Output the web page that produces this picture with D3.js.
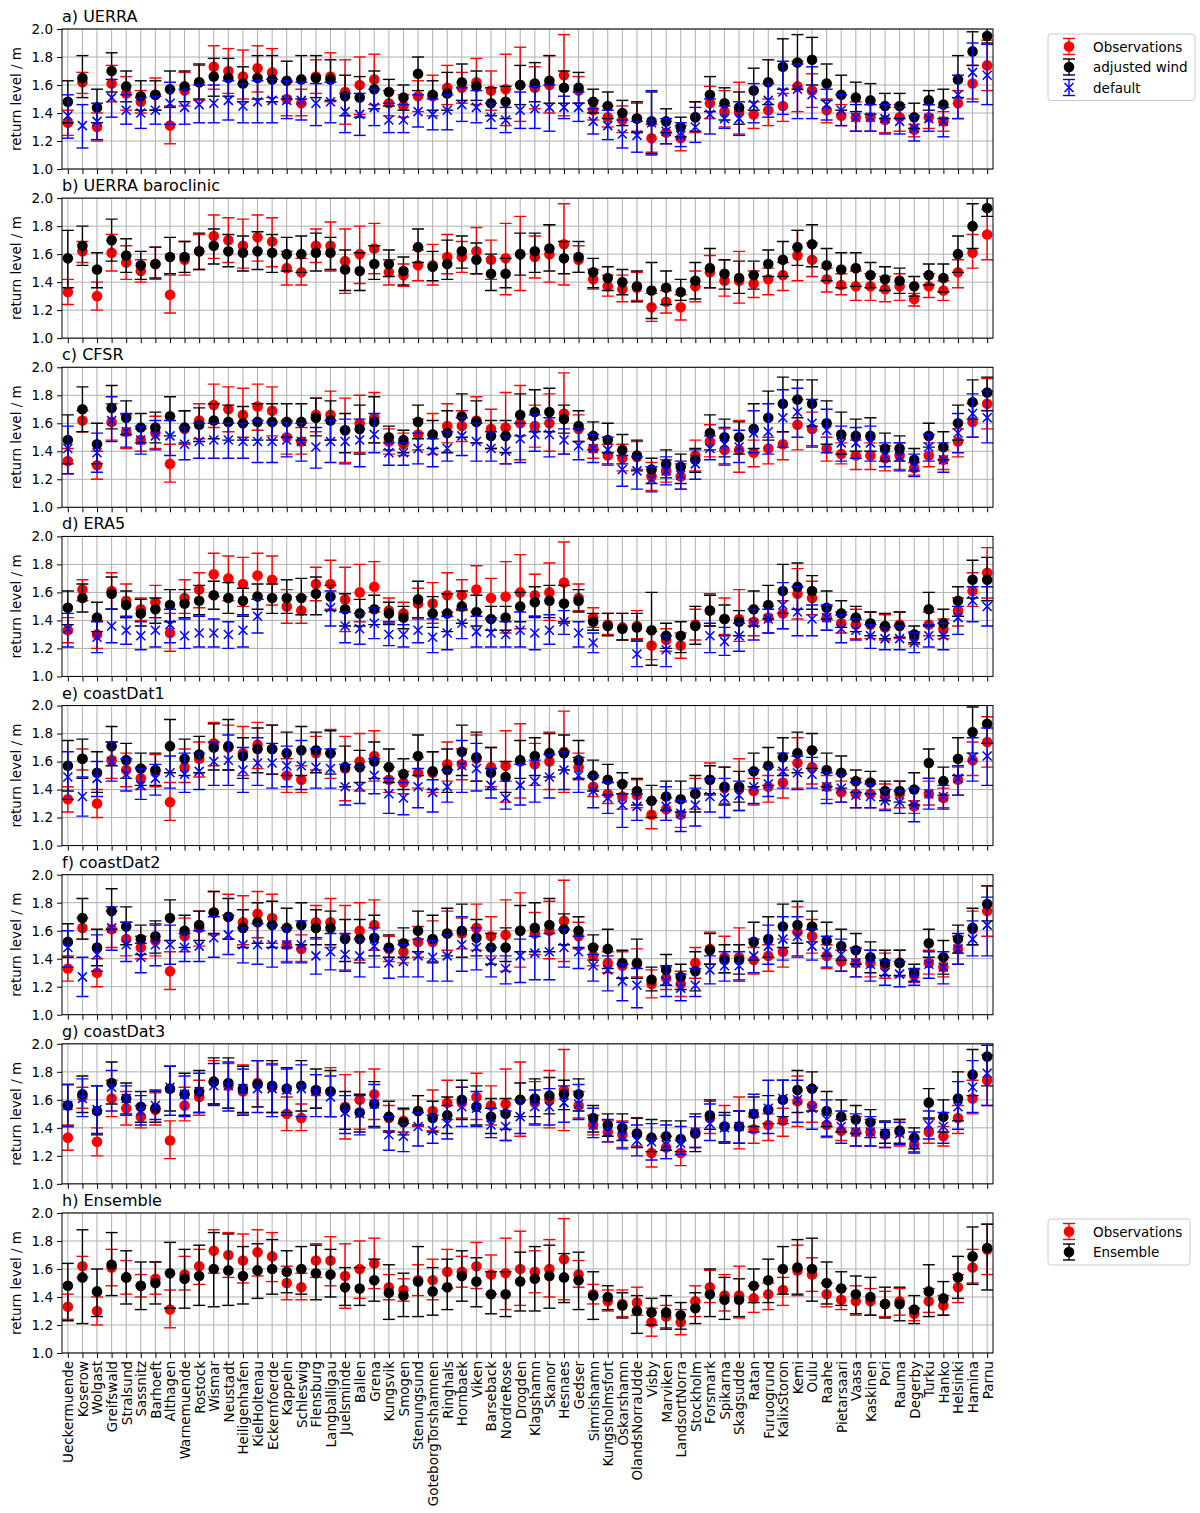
<!DOCTYPE html>
<html>
<head>
<meta charset="utf-8">
<script src="https://cdn.jsdelivr.net/npm/d3@7"></script>
<style>
body { margin:0; background:#fff; }
svg text { font-family: "DejaVu Sans", sans-serif; fill:#000; }
</style>
</head>
<body>
<svg width="1200" height="1513"></svg>
<script>
var stations = ["Ueckermuende","Koserow","Wolgast","Greifswald","Stralsund","Sassnitz","Barhoeft","Althagen",
 "Warnemuende","Rostock","Wismar","Neustadt","Heiligenhafen","KielHoltenau","Eckernfoerde","Kappeln","Schleswig",
 "Flensburg","Langballigau","Juelsminde","Ballen","Grena","Kungsvik","Smogen","Stenungsund","GoteborgTorshamnen",
 "Ringhals","Hornbaek","Viken","Barseback","NordreRose","Drogden","Klagshamn","Skanor","Hesnaes","Gedser",
 "Simrishamn","Kungsholmsfort","Öskarshamn","OlandsNorraUdde","Visby","Marviken","LandsortNorra","Stockholm",
 "Forsmark","Spikarna","Skagsudde","Ratan","Furuogrund","KalixStoron","Kemi","Oulu","Raahe","Pietarsaari",
 "Vaasa","Kaskinen","Pori","Rauma","Degerby","Turku","Hanko","Helsinki","Hamina","Parnu"];

var yTicks = [1.0, 1.2, 1.4, 1.6, 1.8, 2.0];

// each entry: [return level, lower, upper]
var obs = [[1.33,1.24,1.42],[1.62,1.54,1.69],[1.30,1.20,1.40],[1.61,1.48,1.74],[1.54,1.42,1.66],[1.48,1.40,1.56],[1.53,1.42,1.65],[1.31,1.18,1.45],
 [1.56,1.45,1.69],[1.62,1.49,1.74],[1.73,1.57,1.88],[1.70,1.54,1.86],[1.66,1.50,1.85],[1.72,1.55,1.88],[1.69,1.51,1.86],[1.50,1.38,1.62],
 [1.47,1.38,1.57],[1.66,1.54,1.78],[1.66,1.48,1.83],[1.55,1.32,1.78],[1.60,1.39,1.80],[1.64,1.46,1.82],[1.47,1.38,1.56],[1.45,1.37,1.53],
 [1.52,1.41,1.63],[1.52,1.38,1.67],[1.58,1.46,1.74],[1.58,1.47,1.69],[1.62,1.46,1.79],[1.56,1.42,1.70],[1.57,1.31,1.82],[1.60,1.34,1.87],
 [1.58,1.43,1.73],[1.60,1.40,1.81],[1.67,1.38,1.96],[1.56,1.47,1.66],[1.42,1.35,1.49],[1.37,1.30,1.45],[1.35,1.26,1.45],[1.36,1.27,1.47],
 [1.22,1.12,1.32],[1.26,1.18,1.34],[1.22,1.13,1.31],[1.37,1.26,1.48],[1.47,1.36,1.59],[1.41,1.30,1.56],[1.41,1.25,1.62],[1.39,1.29,1.48],
 [1.42,1.31,1.50],[1.45,1.34,1.54],[1.59,1.41,1.77],[1.56,1.44,1.68],[1.42,1.33,1.50],[1.38,1.31,1.46],[1.37,1.27,1.48],[1.37,1.27,1.46],
 [1.35,1.26,1.44],[1.37,1.27,1.46],[1.28,1.23,1.32],[1.37,1.29,1.46],[1.34,1.27,1.41],[1.47,1.36,1.56],[1.61,1.50,1.74],[1.74,1.56,1.92]];

var uerraAdj = [[1.48,1.33,1.63],[1.65,1.51,1.81],[1.44,1.33,1.57],[1.70,1.55,1.83],[1.59,1.48,1.70],[1.52,1.42,1.63],[1.53,1.42,1.63],[1.57,1.44,1.70],
 [1.59,1.48,1.70],[1.62,1.50,1.75],[1.66,1.52,1.79],[1.65,1.52,1.79],[1.61,1.48,1.73],[1.65,1.50,1.81],[1.64,1.48,1.81],[1.63,1.50,1.77],
 [1.64,1.50,1.81],[1.65,1.51,1.81],[1.64,1.49,1.78],[1.52,1.38,1.67],[1.51,1.37,1.66],[1.57,1.43,1.70],[1.55,1.45,1.64],[1.51,1.42,1.60],
 [1.68,1.56,1.80],[1.53,1.42,1.63],[1.54,1.42,1.69],[1.62,1.49,1.75],[1.59,1.49,1.70],[1.47,1.38,1.58],[1.48,1.36,1.59],[1.60,1.46,1.74],
 [1.61,1.48,1.76],[1.63,1.47,1.81],[1.58,1.47,1.70],[1.58,1.47,1.69],[1.48,1.40,1.57],[1.45,1.36,1.55],[1.40,1.31,1.49],[1.36,1.26,1.48],
 [1.34,1.11,1.55],[1.34,1.26,1.43],[1.30,1.23,1.37],[1.37,1.27,1.48],[1.53,1.41,1.66],[1.47,1.35,1.58],[1.44,1.32,1.55],[1.56,1.42,1.72],
 [1.62,1.46,1.78],[1.73,1.57,1.93],[1.76,1.57,1.96],[1.78,1.60,1.94],[1.61,1.49,1.75],[1.53,1.42,1.67],[1.51,1.41,1.62],[1.49,1.39,1.61],
 [1.45,1.36,1.54],[1.45,1.36,1.54],[1.37,1.29,1.47],[1.49,1.42,1.56],[1.46,1.36,1.57],[1.64,1.51,1.81],[1.84,1.74,1.98],[1.95,1.90,2.02]];
var uerraDef = [[1.38,1.22,1.53],[1.31,1.15,1.46],[1.34,1.21,1.47],[1.51,1.37,1.64],[1.42,1.32,1.53],[1.40,1.29,1.51],[1.42,1.32,1.52],[1.47,1.32,1.62],
 [1.44,1.32,1.57],[1.46,1.33,1.60],[1.47,1.33,1.60],[1.49,1.35,1.63],[1.45,1.33,1.61],[1.48,1.33,1.63],[1.49,1.33,1.64],[1.49,1.36,1.63],
 [1.49,1.35,1.62],[1.47,1.31,1.61],[1.48,1.33,1.62],[1.41,1.26,1.54],[1.39,1.24,1.54],[1.44,1.31,1.57],[1.35,1.26,1.47],[1.35,1.26,1.46],
 [1.41,1.30,1.53],[1.39,1.28,1.50],[1.42,1.28,1.53],[1.46,1.34,1.58],[1.44,1.33,1.56],[1.37,1.29,1.47],[1.35,1.26,1.44],[1.42,1.29,1.55],
 [1.43,1.29,1.59],[1.44,1.27,1.60],[1.44,1.36,1.52],[1.44,1.34,1.55],[1.34,1.25,1.43],[1.31,1.21,1.42],[1.25,1.15,1.35],[1.24,1.12,1.34],
 [1.33,1.10,1.56],[1.27,1.18,1.36],[1.24,1.16,1.33],[1.30,1.19,1.44],[1.39,1.25,1.50],[1.36,1.29,1.45],[1.36,1.24,1.48],[1.46,1.33,1.61],
 [1.49,1.37,1.61],[1.55,1.39,1.77],[1.57,1.36,1.75],[1.53,1.36,1.73],[1.46,1.35,1.57],[1.42,1.31,1.53],[1.37,1.27,1.46],[1.37,1.27,1.46],
 [1.36,1.25,1.46],[1.34,1.25,1.44],[1.29,1.20,1.38],[1.36,1.27,1.46],[1.34,1.23,1.44],[1.53,1.36,1.67],[1.69,1.48,1.90],[1.67,1.46,1.89]];

var baroAdj = [[1.57,1.36,1.77],[1.66,1.52,1.80],[1.49,1.36,1.61],[1.70,1.55,1.85],[1.59,1.47,1.71],[1.52,1.42,1.62],[1.53,1.43,1.65],[1.58,1.46,1.72],
 [1.58,1.47,1.69],[1.62,1.49,1.75],[1.66,1.53,1.78],[1.62,1.51,1.74],[1.61,1.48,1.73],[1.62,1.49,1.76],[1.61,1.47,1.74],[1.60,1.48,1.72],
 [1.60,1.47,1.73],[1.61,1.48,1.75],[1.61,1.49,1.72],[1.49,1.34,1.63],[1.48,1.34,1.61],[1.53,1.42,1.66],[1.53,1.44,1.63],[1.48,1.38,1.58],
 [1.65,1.54,1.78],[1.51,1.41,1.62],[1.53,1.42,1.70],[1.62,1.50,1.73],[1.56,1.46,1.68],[1.46,1.34,1.60],[1.46,1.36,1.57],[1.60,1.45,1.75],
 [1.62,1.47,1.75],[1.64,1.48,1.81],[1.57,1.46,1.69],[1.58,1.47,1.69],[1.47,1.36,1.57],[1.43,1.34,1.51],[1.40,1.31,1.49],[1.37,1.26,1.48],
 [1.34,1.14,1.54],[1.36,1.24,1.48],[1.33,1.27,1.42],[1.41,1.28,1.54],[1.50,1.36,1.64],[1.46,1.35,1.56],[1.43,1.32,1.55],[1.45,1.35,1.55],
 [1.53,1.44,1.63],[1.56,1.44,1.69],[1.65,1.52,1.77],[1.67,1.51,1.81],[1.52,1.41,1.64],[1.49,1.36,1.61],[1.50,1.37,1.61],[1.45,1.36,1.54],
 [1.42,1.34,1.51],[1.41,1.32,1.50],[1.37,1.30,1.44],[1.45,1.38,1.53],[1.43,1.33,1.53],[1.60,1.47,1.73],[1.80,1.64,1.96],[1.93,1.87,2.02]];

var cfsrAdj = [[1.48,1.31,1.66],[1.70,1.54,1.86],[1.45,1.31,1.60],[1.71,1.56,1.87],[1.64,1.52,1.76],[1.57,1.46,1.67],[1.57,1.46,1.68],[1.65,1.51,1.79],
 [1.57,1.46,1.69],[1.59,1.47,1.71],[1.62,1.49,1.74],[1.61,1.48,1.73],[1.60,1.48,1.72],[1.61,1.48,1.74],[1.61,1.48,1.74],[1.61,1.50,1.74],
 [1.61,1.48,1.74],[1.64,1.51,1.78],[1.62,1.48,1.76],[1.55,1.39,1.67],[1.56,1.38,1.73],[1.61,1.46,1.79],[1.50,1.41,1.58],[1.48,1.39,1.55],
 [1.61,1.49,1.73],[1.52,1.42,1.62],[1.53,1.39,1.69],[1.65,1.50,1.81],[1.61,1.46,1.76],[1.51,1.42,1.62],[1.51,1.39,1.62],[1.66,1.51,1.81],
 [1.68,1.54,1.84],[1.68,1.54,1.85],[1.63,1.53,1.73],[1.58,1.47,1.69],[1.51,1.41,1.61],[1.48,1.39,1.60],[1.41,1.31,1.52],[1.37,1.26,1.48],
 [1.27,1.17,1.35],[1.31,1.21,1.41],[1.29,1.17,1.38],[1.34,1.25,1.42],[1.53,1.41,1.66],[1.50,1.36,1.63],[1.50,1.38,1.61],[1.56,1.42,1.74],
 [1.64,1.48,1.83],[1.74,1.54,1.93],[1.77,1.64,1.91],[1.74,1.58,1.91],[1.60,1.45,1.76],[1.52,1.38,1.68],[1.51,1.40,1.63],[1.51,1.40,1.64],
 [1.42,1.33,1.53],[1.42,1.33,1.51],[1.34,1.26,1.42],[1.51,1.43,1.60],[1.43,1.34,1.54],[1.60,1.48,1.73],[1.75,1.63,1.91],[1.82,1.69,1.93]];
var cfsrDef = [[1.42,1.24,1.58],null,[1.39,1.25,1.53],[1.62,1.47,1.79],[1.54,1.43,1.67],[1.48,1.38,1.58],[1.51,1.41,1.62],[1.51,1.37,1.62],
 [1.45,1.34,1.57],[1.47,1.35,1.60],[1.48,1.35,1.60],[1.48,1.35,1.60],[1.47,1.35,1.60],[1.47,1.32,1.62],[1.47,1.32,1.61],[1.48,1.36,1.61],
 [1.47,1.33,1.60],[1.43,1.28,1.57],[1.47,1.32,1.62],[1.47,1.31,1.63],[1.48,1.29,1.63],[1.52,1.39,1.67],[1.39,1.30,1.46],[1.39,1.30,1.46],
 [1.42,1.31,1.53],[1.40,1.29,1.49],[1.42,1.33,1.54],[1.51,1.37,1.64],[1.47,1.33,1.60],[1.42,1.33,1.54],[1.40,1.31,1.51],[1.49,1.32,1.60],
 [1.52,1.40,1.66],[1.52,1.36,1.64],[1.48,1.38,1.56],[1.44,1.34,1.56],[1.42,1.32,1.52],[1.41,1.31,1.50],[1.27,1.15,1.37],[1.26,1.13,1.36],
 [1.20,1.11,1.29],[1.26,1.16,1.36],[1.23,1.13,1.33],[1.31,1.20,1.41],[1.42,1.34,1.51],[1.45,1.31,1.57],[1.43,1.32,1.55],[1.53,1.39,1.69],
 [1.54,1.38,1.74],[1.64,1.43,1.84],[1.68,1.50,1.85],[1.60,1.43,1.77],[1.55,1.39,1.70],[1.46,1.33,1.58],[1.46,1.35,1.57],[1.46,1.33,1.58],
 [1.37,1.29,1.46],[1.36,1.26,1.46],[1.29,1.22,1.38],[1.43,1.33,1.52],[1.34,1.25,1.46],[1.53,1.39,1.67],[1.67,1.50,1.81],[1.64,1.46,1.83]];

var era5Adj = [[1.49,1.37,1.61],[1.56,1.46,1.66],[1.42,1.32,1.53],[1.59,1.48,1.71],[1.51,1.42,1.61],[1.45,1.36,1.55],[1.48,1.38,1.56],[1.51,1.39,1.62],
 [1.52,1.42,1.62],[1.54,1.44,1.65],[1.58,1.48,1.68],[1.56,1.45,1.67],[1.54,1.43,1.63],[1.57,1.48,1.66],[1.56,1.45,1.66],[1.56,1.45,1.69],
 [1.56,1.44,1.70],[1.59,1.44,1.71],[1.57,1.47,1.65],[1.48,1.36,1.59],[1.45,1.36,1.55],[1.48,1.37,1.58],[1.45,1.37,1.53],[1.42,1.34,1.50],
 [1.55,1.42,1.68],[1.45,1.35,1.57],[1.45,1.32,1.59],[1.50,1.38,1.61],[1.46,1.36,1.58],[1.41,1.33,1.50],[1.42,1.33,1.50],[1.50,1.39,1.60],
 [1.53,1.42,1.64],[1.54,1.42,1.65],[1.52,1.39,1.65],[1.54,1.46,1.62],[1.39,1.33,1.45],[1.36,1.29,1.45],[1.34,1.26,1.45],[1.35,1.26,1.45],
 [1.33,1.08,1.60],[1.29,1.20,1.38],[1.29,1.17,1.39],[1.36,1.23,1.50],[1.47,1.36,1.58],[1.41,1.29,1.51],[1.39,1.29,1.47],[1.48,1.36,1.61],
 [1.51,1.41,1.65],[1.61,1.45,1.80],[1.64,1.48,1.81],[1.61,1.48,1.72],[1.49,1.41,1.61],[1.45,1.35,1.54],[1.42,1.32,1.50],[1.38,1.29,1.46],
 [1.36,1.27,1.45],[1.36,1.28,1.46],[1.30,1.24,1.36],[1.48,1.36,1.60],[1.38,1.29,1.48],[1.54,1.43,1.64],[1.69,1.56,1.83],[1.69,1.54,1.85]];
var era5Def = [[1.34,1.21,1.45],null,[1.28,1.17,1.39],[1.36,1.24,1.48],[1.33,1.23,1.43],[1.29,1.19,1.39],[1.33,1.21,1.42],[1.37,1.24,1.48],
 [1.29,1.20,1.41],[1.31,1.21,1.43],[1.31,1.21,1.41],[1.30,1.20,1.39],[1.33,1.21,1.44],[1.43,1.31,1.55],null,null,
 null,null,[1.49,1.36,1.61],[1.36,1.24,1.46],[1.34,1.23,1.45],[1.38,1.27,1.49],[1.30,1.22,1.39],[1.30,1.21,1.37],
 [1.33,1.24,1.42],[1.28,1.17,1.41],[1.31,1.19,1.43],[1.38,1.27,1.48],[1.32,1.21,1.43],[1.31,1.21,1.41],[1.30,1.21,1.39],[1.33,1.21,1.46],
 [1.31,1.19,1.43],[1.33,1.23,1.44],[1.39,1.30,1.47],[1.31,1.21,1.39],[1.24,1.17,1.31],null,null,[1.16,1.07,1.25],
 null,[1.19,1.07,1.29],null,null,[1.29,1.17,1.38],[1.25,1.15,1.35],[1.29,1.18,1.38],[1.38,1.26,1.48],
 [1.41,1.31,1.48],[1.51,1.34,1.67],[1.46,1.29,1.64],[1.41,1.29,1.51],[1.42,1.33,1.51],[1.34,1.24,1.44],[1.33,1.26,1.41],[1.29,1.20,1.37],
 [1.27,1.19,1.35],[1.27,1.19,1.36],[1.24,1.17,1.31],[1.29,1.21,1.37],[1.29,1.19,1.38],[1.42,1.30,1.50],[1.54,1.39,1.64],[1.50,1.36,1.64]];

var cd1Adj = [[1.57,1.39,1.75],[1.62,1.48,1.76],[1.52,1.38,1.67],[1.71,1.57,1.85],[1.61,1.48,1.73],[1.55,1.43,1.66],[1.54,1.43,1.66],[1.71,1.52,1.90],
 [1.62,1.50,1.76],[1.65,1.52,1.78],[1.70,1.54,1.87],[1.71,1.54,1.90],[1.64,1.48,1.77],[1.69,1.52,1.84],[1.69,1.51,1.86],[1.66,1.50,1.81],
 [1.68,1.50,1.85],[1.68,1.52,1.81],[1.66,1.51,1.82],[1.56,1.42,1.71],[1.56,1.45,1.68],[1.60,1.48,1.74],[1.56,1.45,1.69],[1.51,1.40,1.62],
 [1.64,1.50,1.79],[1.53,1.40,1.67],[1.54,1.38,1.69],[1.67,1.50,1.86],[1.63,1.46,1.81],[1.52,1.40,1.70],[1.49,1.38,1.60],[1.61,1.48,1.75],
 [1.64,1.50,1.77],[1.66,1.49,1.80],[1.66,1.54,1.79],[1.61,1.48,1.75],[1.50,1.39,1.61],[1.47,1.36,1.58],[1.44,1.37,1.52],[1.39,1.29,1.48],
 [1.32,1.20,1.43],[1.35,1.25,1.46],[1.33,1.24,1.46],[1.37,1.24,1.50],[1.47,1.37,1.57],[1.42,1.29,1.56],[1.42,1.31,1.53],[1.53,1.42,1.66],
 [1.57,1.43,1.70],[1.63,1.50,1.77],[1.66,1.52,1.81],[1.68,1.55,1.80],[1.54,1.42,1.66],[1.52,1.41,1.64],[1.46,1.38,1.54],[1.45,1.37,1.53],
 [1.39,1.32,1.46],[1.39,1.31,1.46],[1.40,1.29,1.52],[1.59,1.48,1.69],[1.46,1.36,1.56],[1.62,1.50,1.77],[1.81,1.66,1.99],[1.87,1.73,2.02]];
var cd1Def = [[1.49,1.33,1.67],[1.35,1.21,1.49],[1.48,1.35,1.60],[1.60,1.46,1.74],[1.51,1.39,1.62],[1.43,1.33,1.55],[1.48,1.36,1.58],[1.52,1.41,1.64],
 [1.51,1.38,1.66],[1.53,1.40,1.66],[1.60,1.43,1.74],[1.61,1.43,1.79],[1.54,1.38,1.70],[1.59,1.43,1.77],[1.59,1.41,1.73],[1.57,1.42,1.71],
 [1.57,1.40,1.75],[1.56,1.41,1.69],[1.55,1.41,1.69],[1.42,1.29,1.58],[1.42,1.30,1.56],[1.50,1.37,1.62],[1.37,1.23,1.48],[1.34,1.22,1.45],
 [1.42,1.27,1.55],[1.38,1.24,1.47],[1.42,1.31,1.54],[1.57,1.38,1.75],[1.55,1.39,1.73],[1.43,1.34,1.55],[1.34,1.26,1.46],[1.43,1.29,1.58],
 [1.46,1.31,1.61],[1.49,1.34,1.65],[1.54,1.40,1.67],[1.50,1.38,1.63],[1.39,1.27,1.50],[1.34,1.23,1.45],[1.29,1.13,1.37],[1.28,1.18,1.37],
 null,[1.28,1.18,1.42],[1.23,1.10,1.32],[1.29,1.14,1.41],[1.35,1.24,1.48],[1.34,1.20,1.48],[1.36,1.25,1.46],[1.42,1.30,1.54],
 [1.44,1.35,1.56],[1.53,1.41,1.66],[1.52,1.40,1.64],[1.51,1.41,1.63],[1.42,1.30,1.52],[1.41,1.31,1.51],[1.36,1.27,1.45],[1.35,1.27,1.44],
 [1.32,1.25,1.40],[1.31,1.23,1.39],[1.29,1.17,1.41],[1.37,1.26,1.48],[1.35,1.26,1.43],[1.48,1.36,1.57],[1.63,1.46,1.77],[1.64,1.43,1.84]];

var cd2Adj = [[1.52,1.41,1.65],[1.69,1.54,1.83],[1.48,1.35,1.61],[1.74,1.61,1.90],[1.63,1.50,1.77],[1.54,1.43,1.64],[1.56,1.44,1.67],[1.69,1.53,1.82],
 [1.60,1.48,1.71],[1.64,1.53,1.74],[1.73,1.58,1.88],[1.70,1.54,1.83],[1.62,1.48,1.75],[1.66,1.51,1.80],[1.64,1.48,1.81],[1.62,1.48,1.76],
 [1.64,1.50,1.80],[1.62,1.50,1.75],[1.62,1.50,1.74],[1.54,1.38,1.68],[1.54,1.37,1.68],[1.55,1.42,1.71],[1.48,1.41,1.57],[1.51,1.41,1.62],
 [1.60,1.45,1.74],[1.54,1.37,1.71],[1.58,1.42,1.76],[1.60,1.41,1.79],[1.55,1.42,1.68],[1.48,1.36,1.58],[1.48,1.38,1.62],[1.60,1.45,1.78],
 [1.62,1.45,1.80],[1.64,1.45,1.83],[1.61,1.50,1.72],[1.60,1.48,1.70],[1.48,1.39,1.57],[1.47,1.33,1.61],[1.37,1.26,1.46],[1.37,1.26,1.54],
 [1.25,1.17,1.34],[1.32,1.21,1.43],[1.27,1.18,1.36],[1.31,1.17,1.45],[1.46,1.36,1.58],[1.39,1.30,1.50],[1.39,1.29,1.50],[1.52,1.39,1.66],
 [1.54,1.41,1.70],[1.63,1.48,1.79],[1.64,1.51,1.81],[1.63,1.52,1.74],[1.53,1.42,1.66],[1.49,1.39,1.61],[1.46,1.36,1.58],[1.41,1.30,1.52],
 [1.37,1.28,1.46],[1.37,1.28,1.46],[1.30,1.24,1.36],[1.51,1.41,1.61],[1.41,1.29,1.53],[1.54,1.44,1.64],[1.62,1.50,1.76],[1.79,1.67,1.92]];
var cd2Def = [[1.48,1.34,1.60],[1.27,1.13,1.41],[1.43,1.31,1.57],[1.62,1.46,1.77],[1.50,1.38,1.66],[1.41,1.30,1.51],[1.50,1.35,1.64],[1.50,1.36,1.64],
 [1.48,1.38,1.58],[1.49,1.38,1.60],[1.55,1.41,1.70],[1.57,1.43,1.71],[1.50,1.37,1.62],[1.50,1.36,1.65],[1.50,1.34,1.64],[1.50,1.37,1.62],
 [1.50,1.37,1.67],[1.42,1.29,1.55],[1.45,1.32,1.58],[1.43,1.31,1.58],[1.42,1.27,1.54],[1.49,1.34,1.62],[1.37,1.26,1.47],[1.38,1.27,1.50],
 [1.42,1.27,1.54],[1.41,1.24,1.53],[1.42,1.24,1.57],[1.50,1.31,1.70],[1.48,1.32,1.62],[1.38,1.27,1.48],[1.33,1.22,1.42],[1.42,1.23,1.54],
 [1.44,1.25,1.56],[1.45,1.25,1.58],[1.48,1.34,1.61],[1.45,1.33,1.56],[1.35,1.24,1.43],[1.32,1.17,1.42],[1.24,1.10,1.36],[1.21,1.05,1.33],
 null,[1.24,1.13,1.35],[1.19,1.10,1.29],[1.21,1.13,1.33],[1.32,1.22,1.42],[1.35,1.24,1.45],[1.35,1.24,1.45],[1.42,1.30,1.54],
 [1.49,1.36,1.64],[1.54,1.39,1.70],[1.56,1.42,1.70],[1.49,1.39,1.61],[1.45,1.34,1.56],[1.43,1.31,1.54],[1.37,1.27,1.47],[1.36,1.24,1.46],
 [1.30,1.21,1.39],[1.29,1.20,1.38],[1.26,1.21,1.33],[1.36,1.26,1.45],[1.34,1.22,1.45],[1.47,1.36,1.58],[1.54,1.42,1.67],[1.64,1.42,1.84]];

var cd3Adj = [[1.56,1.41,1.71],[1.64,1.51,1.77],[1.52,1.35,1.70],[1.72,1.57,1.87],[1.61,1.50,1.72],[1.55,1.44,1.66],[1.54,1.44,1.66],[1.68,1.52,1.84],
 [1.64,1.49,1.79],[1.66,1.51,1.81],[1.73,1.57,1.90],[1.72,1.54,1.90],[1.68,1.51,1.84],[1.71,1.55,1.88],[1.70,1.51,1.88],[1.68,1.51,1.83],
 [1.70,1.52,1.88],[1.67,1.54,1.82],[1.66,1.48,1.81],[1.54,1.39,1.66],[1.51,1.37,1.64],[1.57,1.41,1.73],[1.48,1.37,1.59],[1.44,1.35,1.54],
 [1.52,1.42,1.63],[1.47,1.37,1.59],[1.49,1.36,1.62],[1.60,1.46,1.74],[1.55,1.42,1.70],[1.48,1.36,1.61],[1.50,1.39,1.61],[1.60,1.48,1.72],
 [1.61,1.48,1.75],[1.63,1.50,1.76],[1.64,1.53,1.74],[1.64,1.52,1.75],[1.47,1.37,1.56],[1.42,1.34,1.50],[1.40,1.31,1.50],[1.36,1.26,1.47],
 [1.33,1.23,1.46],[1.34,1.24,1.45],[1.32,1.23,1.45],[1.36,1.23,1.50],[1.49,1.39,1.60],[1.41,1.30,1.51],[1.41,1.29,1.52],[1.50,1.41,1.62],
 [1.53,1.43,1.63],[1.60,1.48,1.74],[1.67,1.51,1.81],[1.68,1.52,1.80],[1.52,1.41,1.66],[1.48,1.37,1.60],[1.46,1.36,1.56],[1.44,1.33,1.53],
 [1.36,1.29,1.45],[1.38,1.29,1.46],[1.33,1.25,1.40],[1.58,1.47,1.68],[1.48,1.37,1.60],[1.61,1.45,1.80],[1.78,1.63,1.96],[1.91,1.70,2.02]];
var cd3Def = [[1.56,1.41,1.71],[1.61,1.48,1.75],[1.53,1.36,1.70],[1.69,1.52,1.81],[1.61,1.49,1.70],[1.52,1.42,1.63],[1.56,1.46,1.67],[1.69,1.49,1.84],
 [1.64,1.48,1.77],[1.66,1.51,1.79],[1.70,1.56,1.86],[1.70,1.52,1.87],[1.68,1.49,1.82],[1.68,1.51,1.88],[1.68,1.48,1.85],[1.67,1.49,1.82],
 [1.68,1.48,1.85],[1.66,1.48,1.78],[1.62,1.48,1.77],[1.51,1.36,1.63],[1.50,1.35,1.63],[1.57,1.40,1.71],[1.35,1.24,1.48],[1.34,1.23,1.43],
 [1.41,1.27,1.51],[1.38,1.29,1.49],[1.43,1.32,1.56],[1.55,1.41,1.69],[1.54,1.41,1.66],[1.42,1.33,1.54],[1.41,1.31,1.52],[1.48,1.36,1.60],
 [1.55,1.42,1.67],[1.55,1.42,1.68],[1.58,1.44,1.70],[1.57,1.46,1.71],[1.42,1.33,1.54],[1.37,1.30,1.46],[1.34,1.25,1.44],[1.31,1.20,1.42],
 [1.30,1.17,1.43],[1.28,1.18,1.42],[1.29,1.21,1.41],[1.37,1.26,1.48],[1.43,1.31,1.57],[1.40,1.29,1.49],[1.41,1.29,1.52],[1.50,1.37,1.64],
 [1.54,1.36,1.74],[1.61,1.43,1.74],[1.60,1.44,1.74],[1.54,1.39,1.69],[1.46,1.34,1.60],[1.41,1.29,1.52],[1.37,1.27,1.50],[1.37,1.27,1.48],
 [1.36,1.26,1.44],[1.36,1.28,1.44],[1.29,1.22,1.37],[1.42,1.32,1.52],[1.41,1.29,1.51],[1.55,1.39,1.73],[1.69,1.51,1.88],[1.79,1.56,1.99]];

var ensemble = [[1.48,1.23,1.64],[1.54,1.21,1.88],[1.44,1.26,1.60],[1.63,1.41,1.86],[1.54,1.35,1.73],[1.48,1.31,1.65],[1.50,1.35,1.65],[1.57,1.32,1.79],
 [1.53,1.32,1.74],[1.55,1.34,1.77],[1.60,1.33,1.86],[1.59,1.34,1.85],[1.55,1.35,1.76],[1.59,1.39,1.78],[1.60,1.42,1.81],[1.58,1.43,1.73],
 [1.60,1.42,1.76],[1.57,1.38,1.77],[1.56,1.40,1.74],[1.47,1.34,1.61],[1.46,1.34,1.61],[1.52,1.37,1.67],[1.43,1.24,1.63],[1.41,1.26,1.57],
 [1.51,1.26,1.76],[1.44,1.27,1.61],[1.47,1.31,1.67],[1.55,1.37,1.73],[1.51,1.33,1.68],[1.42,1.28,1.58],[1.42,1.26,1.58],[1.51,1.30,1.72],
 [1.53,1.30,1.76],[1.55,1.32,1.77],[1.54,1.36,1.71],[1.52,1.31,1.72],[1.41,1.24,1.58],[1.40,1.31,1.48],[1.34,1.25,1.43],[1.30,1.14,1.41],
 [1.29,1.20,1.39],[1.29,1.17,1.41],[1.27,1.17,1.36],[1.32,1.21,1.43],[1.42,1.26,1.60],[1.38,1.24,1.54],[1.38,1.26,1.53],[1.48,1.36,1.60],
 [1.52,1.36,1.67],[1.60,1.42,1.76],[1.61,1.42,1.81],[1.60,1.37,1.82],[1.50,1.35,1.65],[1.46,1.34,1.58],[1.42,1.28,1.55],[1.40,1.27,1.54],
 [1.35,1.25,1.47],[1.35,1.23,1.47],[1.31,1.21,1.41],[1.44,1.26,1.63],[1.39,1.27,1.51],[1.54,1.39,1.69],[1.69,1.49,1.90],[1.75,1.45,1.92]];

var panels = [
  {title: "a) UERRA", adj: uerraAdj, def: uerraDef},
  {title: "b) UERRA baroclinic", adj: baroAdj, def: null},
  {title: "c) CFSR", adj: cfsrAdj, def: cfsrDef},
  {title: "d) ERA5", adj: era5Adj, def: era5Def},
  {title: "e) coastDat1", adj: cd1Adj, def: cd1Def},
  {title: "f) coastDat2", adj: cd2Adj, def: cd2Def},
  {title: "g) coastDat3", adj: cd3Adj, def: cd3Def},
  {title: "h) Ensemble", adj: ensemble, def: null}
];

var svg = d3.select("svg");
var left = 62, right = 993, top0 = 29, step = 169.14, ph = 140;
var RED = "#ff0000", BLUE = "#0000ff", BLACK = "#000000", GRID = "#b0b0b0";
var cap = 6, lw = 1.4;

var x = d3.scaleLinear().domain([-0.4, stations.length - 0.6]).range([left, right]);

function drawSeries(g, data, y, color, marker) {
  var pts = data.map(function(d, i) { return d ? {i: i, v: d[0], lo: d[1], hi: d[2]} : null; })
                .filter(function(d) { return d; });
  var s = g.append("g");
  s.selectAll("line.bar").data(pts).enter().append("line")
    .attr("x1", function(d) { return x(d.i); }).attr("x2", function(d) { return x(d.i); })
    .attr("y1", function(d) { return y(d.lo); }).attr("y2", function(d) { return y(d.hi); })
    .attr("stroke", color).attr("stroke-width", lw);
  ["lo", "hi"].forEach(function(k) {
    s.selectAll("line.c" + k).data(pts).enter().append("line")
      .attr("x1", function(d) { return x(d.i) - cap; }).attr("x2", function(d) { return x(d.i) + cap; })
      .attr("y1", function(d) { return y(d[k]); }).attr("y2", function(d) { return y(d[k]); })
      .attr("stroke", color).attr("stroke-width", lw);
  });
  if (marker == "o") {
    s.selectAll("circle").data(pts).enter().append("circle")
      .attr("cx", function(d) { return x(d.i); }).attr("cy", function(d) { return y(d.v); })
      .attr("r", 5.3).attr("fill", color);
  } else {
    s.selectAll("path").data(pts).enter().append("path")
      .attr("d", function(d) {
        var cx = x(d.i), cy = y(d.v), m = 4.5;
        return "M" + (cx - m) + "," + (cy - m) + "L" + (cx + m) + "," + (cy + m) +
               "M" + (cx - m) + "," + (cy + m) + "L" + (cx + m) + "," + (cy - m);
      })
      .attr("stroke", color).attr("stroke-width", 1.5).attr("fill", "none");
  }
}

function legend(items, lx, ly, w) {
  var h = items.length * 20.5 + 5;
  var g = svg.append("g");
  g.append("rect").attr("x", lx).attr("y", ly).attr("width", w).attr("height", h)
    .attr("rx", 3).attr("fill", "#fff").attr("fill-opacity", 0.8)
    .attr("stroke", "#cccccc").attr("stroke-width", 1);
  items.forEach(function(it, k) {
    var cy = ly + 12.5 + k * 20.5, cx = lx + 21;
    g.append("line").attr("x1", cx).attr("x2", cx).attr("y1", cy - 8).attr("y2", cy + 8)
      .attr("stroke", it.color).attr("stroke-width", lw);
    [cy - 8, cy + 8].forEach(function(yy) {
      g.append("line").attr("x1", cx - cap).attr("x2", cx + cap).attr("y1", yy).attr("y2", yy)
        .attr("stroke", it.color).attr("stroke-width", lw);
    });
    if (it.marker == "o") {
      g.append("circle").attr("cx", cx).attr("cy", cy).attr("r", 5.3).attr("fill", it.color);
    } else {
      var m = 4.5;
      g.append("path").attr("d", "M" + (cx - m) + "," + (cy - m) + "L" + (cx + m) + "," + (cy + m) +
        "M" + (cx - m) + "," + (cy + m) + "L" + (cx + m) + "," + (cy - m))
        .attr("stroke", it.color).attr("stroke-width", 1.5);
    }
    g.append("text").attr("x", lx + 45).attr("y", cy + 5).attr("font-size", "13.5px").text(it.label);
  });
}

panels.forEach(function(p, pi) {
  var top = top0 + pi * step;
  var y = d3.scaleLinear().domain([1, 2]).range([top + ph, top]);
  var g = svg.append("g");

  g.append("clipPath").attr("id", "clip" + pi).append("rect")
    .attr("x", left).attr("y", top).attr("width", right - left).attr("height", ph);

  // grid
  g.selectAll("line.vg").data(d3.range(stations.length)).enter().append("line")
    .attr("x1", function(d) { return x(d); }).attr("x2", function(d) { return x(d); })
    .attr("y1", top).attr("y2", top + ph).attr("stroke", GRID).attr("stroke-width", 1);
  g.selectAll("line.hg").data(yTicks).enter().append("line")
    .attr("x1", left).attr("x2", right)
    .attr("y1", function(d) { return y(d); }).attr("y2", function(d) { return y(d); })
    .attr("stroke", GRID).attr("stroke-width", 1);

  var data = g.append("g").attr("clip-path", "url(#clip" + pi + ")");
  drawSeries(data, obs, y, RED, "o");
  drawSeries(data, p.adj, y, BLACK, "o");
  if (p.def) drawSeries(data, p.def, y, BLUE, "x");

  // frame
  g.append("rect").attr("x", left).attr("y", top).attr("width", right - left).attr("height", ph)
    .attr("fill", "none").attr("stroke", "#000").attr("stroke-width", 1);

  var ya = g.append("g").attr("transform", "translate(" + left + ",0)")
    .call(d3.axisLeft(y).tickValues(yTicks).tickFormat(d3.format(".1f")).tickSize(5).tickPadding(4));
  ya.select(".domain").remove();
  ya.selectAll("text").attr("font-size", "13.5px").attr("font-family", "DejaVu Sans");

  var xa = g.append("g").attr("transform", "translate(0," + (top + ph) + ")")
    .call(d3.axisBottom(x).tickValues(d3.range(stations.length)).tickSize(5)
      .tickFormat(function(d) { return pi == panels.length - 1 ? stations[d] : ""; }));
  xa.select(".domain").remove();
  xa.selectAll("text").attr("font-size", "13.5px").attr("font-family", "DejaVu Sans")
    .attr("text-anchor", "end").attr("transform", "rotate(-90)")
    .attr("x", -8).attr("y", 0).attr("dy", "0.36em");

  g.append("text").attr("x", left).attr("y", top - 7).attr("font-size", "16px").text(p.title);
  g.append("text").attr("transform", "translate(21," + (top + ph / 2) + ") rotate(-90)")
    .attr("text-anchor", "middle").attr("font-size", "13.5px").text("return level / m");
});

legend([{label: "Observations", color: RED, marker: "o"},
        {label: "adjusted wind", color: BLACK, marker: "o"},
        {label: "default", color: BLUE, marker: "x"}], 1048, 34, 147);
legend([{label: "Observations", color: RED, marker: "o"},
        {label: "Ensemble", color: BLACK, marker: "o"}], 1048, 1219, 142);
</script>
</body>
</html>
